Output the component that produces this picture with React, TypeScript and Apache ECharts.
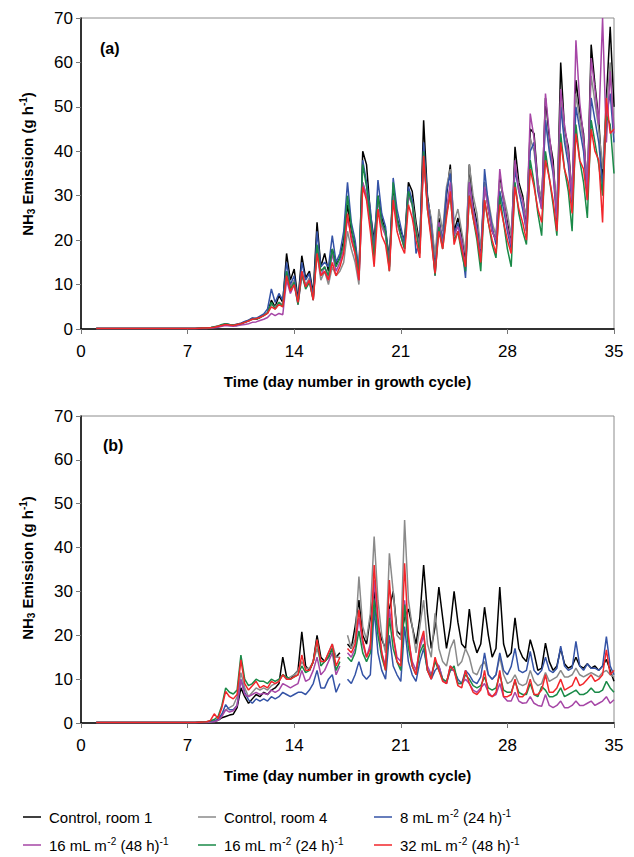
import React, { useEffect, useRef } from "react";
import * as echarts from "echarts";

const FONT = '"Liberation Sans", Arial, Helvetica, sans-serif';

// x positions: a few points on the flat start, then every 6 h from day 8 to day 35
const earlyDays = [1, 3, 5, 7, 7.5];
const earlyVals = [0.1, 0.1, 0.1, 0.1, 0.1];
const gridStart = 8;
const gridStep = 0.25;
const gridCount = 109;

const xTicks = [0, 7, 14, 21, 28, 35];
const yTicks = [0, 10, 20, 30, 40, 50, 60, 70];

const seriesNames = [
  "Control, room 1",
  "Control, room 4",
  "8 mL m-2 (24 h)-1",
  "16 mL m-2 (48 h)-1",
  "16 mL m-2 (24 h)-1",
  "32 mL m-2 (48 h)-1",
];
const legendLabels = [
  "Control, room 1",
  "Control, room 4",
  "8 mL m{sup|-2} (24 h){sup|-1}",
  "16 mL m{sup|-2} (48 h){sup|-1}",
  "16 mL m{sup|-2} (24 h){sup|-1}",
  "32 mL m{sup|-2} (48 h){sup|-1}",
];
const colors = ["#000000", "#8a8a8a", "#3453a6", "#a646a6", "#1a8a48", "#f2262b"];

// ---------- Panel (a) ----------
const aCtrl1 = [
  0.2, 0.2, 0.3, 0.4,
  0.5, 0.8, 1.1, 0.9,
  0.8, 1.0, 1.2, 1.5,
  1.9, 2.4, 2.2, 2.6,
  3.1, 3.6, 6.5, 5.0,
  7.5, 6.0, 17.0, 11.0,
  13.5, 6.5, 16.5, 11.5,
  13.0, 8.0, 24.0, 14.0,
  17.0, 13.0, 18.0, 14.5,
  16.0, 20.0, 28.0, 22.0,
  19.0, 12.0, 40.0, 37.0,
  26.0, 20.0, 30.0, 25.0,
  22.0, 16.0, 32.0, 25.0,
  22.0, 20.0, 33.0, 31.0,
  24.0, 19.0, 47.0, 30.0,
  24.0, 15.0, 25.0, 19.0,
  30.0, 37.0, 22.0, 25.0,
  21.0, 15.0, 37.0, 28.0,
  24.0, 16.0, 33.0, 27.0,
  22.0, 20.0, 34.0, 29.0,
  24.0, 19.0, 41.0, 33.0,
  30.0, 24.0, 45.0, 44.0,
  33.0, 28.0, 52.0, 43.0,
  38.0, 25.0, 60.0, 45.0,
  41.0, 30.0, 56.0, 49.0,
  44.0, 31.0, 64.0, 55.0,
  47.0, 33.0, 52.0, 68.0,
  50.0,
];
const aCtrl4 = [
  0.2, 0.2, 0.3, 0.4,
  0.6, 0.9, 1.0, 0.9,
  0.9, 1.1, 1.3, 1.6,
  2.0, 2.3, 2.4, 2.8,
  3.2, 3.8, 5.5, 5.0,
  6.0, 5.5, 13.0, 9.5,
  11.0, 6.0, 13.0, 10.0,
  11.5, 7.5, 17.0, 11.0,
  13.0, 10.0, 14.0, 12.0,
  13.0, 15.0, 22.0, 18.0,
  15.0, 10.0, 33.0, 30.0,
  24.0, 19.0, 27.0, 23.0,
  21.0, 15.0, 30.0, 24.0,
  21.0, 19.0, 31.0, 29.0,
  23.0, 18.0, 40.0, 29.0,
  25.0, 16.0, 27.0, 22.0,
  32.0, 36.0, 24.0, 27.0,
  22.0, 17.0, 37.0, 30.0,
  26.0, 18.0, 33.0, 29.0,
  24.0, 21.0, 33.0, 30.0,
  26.0, 21.0, 37.0, 32.0,
  29.0, 25.0, 43.0, 40.0,
  33.0, 29.0, 47.0, 41.0,
  36.0, 28.0, 52.0, 43.0,
  39.0, 31.0, 53.0, 47.0,
  42.0, 33.0, 57.0, 51.0,
  45.0, 36.0, 50.0, 60.0,
  45.0,
];
const a8ml24 = [
  0.2, 0.2, 0.3, 0.4,
  0.6, 0.9, 1.2, 1.0,
  0.9, 1.1, 1.3, 1.7,
  2.0, 2.5, 2.4, 2.9,
  3.4, 4.5, 9.0, 6.0,
  8.0, 6.5, 15.0, 10.0,
  12.0, 6.0, 15.0, 11.0,
  12.5, 7.0, 22.0, 14.0,
  15.0, 14.0, 21.0, 15.0,
  17.0, 22.0, 33.0, 24.0,
  20.0, 13.0, 38.0, 33.0,
  27.0, 18.0, 33.5, 26.0,
  23.0, 14.0, 34.0, 27.0,
  23.0, 19.0, 32.0, 29.0,
  17.0, 20.0, 42.0, 29.0,
  23.0, 13.0, 24.0, 20.0,
  31.0, 35.0, 21.0, 24.0,
  19.0, 11.5, 33.0, 27.0,
  23.0, 15.0, 36.0, 28.0,
  23.0, 19.0, 31.0, 27.0,
  22.0, 18.0, 36.0, 31.0,
  27.0, 22.0, 40.0, 42.0,
  31.0, 27.0, 47.0, 40.0,
  35.0, 24.0, 50.0, 42.0,
  37.0, 28.0, 50.0, 45.0,
  40.0, 29.0, 52.0, 47.0,
  42.0, 32.0, 48.0, 53.0,
  42.0,
];
const a16ml48 = [
  0.1, 0.1, 0.2, 0.3,
  0.4, 0.6, 0.8, 0.7,
  0.6, 0.7, 0.9, 1.0,
  1.2, 1.5, 1.6, 1.9,
  2.2, 2.6, 3.5, 3.0,
  3.5, 3.2, 11.0, 8.0,
  10.0, 5.5, 12.0, 9.5,
  11.0, 6.5, 18.0, 12.0,
  14.0, 11.0, 17.0, 13.0,
  15.0, 18.0, 25.0, 21.0,
  17.0, 11.0, 33.0, 30.0,
  24.0, 17.0, 29.0, 24.0,
  21.0, 14.0, 30.0, 24.0,
  21.0, 18.0, 30.0, 28.0,
  22.0, 18.0, 38.0, 28.0,
  22.0, 12.0, 24.0, 19.0,
  27.0, 33.0, 21.0, 23.0,
  20.0, 14.0, 33.0, 27.0,
  22.0, 15.0, 32.0, 27.0,
  22.0, 20.0, 36.0, 29.0,
  23.0, 19.0, 38.0, 31.0,
  29.0, 22.0, 48.5, 43.0,
  32.0, 27.0, 53.0, 44.0,
  36.0, 25.0, 54.0, 46.0,
  40.0, 29.0, 65.0, 51.0,
  43.0, 31.0, 61.0, 54.0,
  46.0, 70.0, 42.0, 58.0,
  44.0,
];
const a16ml24 = [
  0.2, 0.2, 0.3, 0.5,
  0.7, 1.0, 1.2, 1.0,
  0.9, 1.0, 1.2, 1.5,
  1.8, 2.2, 2.2, 2.6,
  3.0, 3.6, 6.0, 4.5,
  6.0, 5.0, 13.0, 9.0,
  10.5, 5.5, 12.5, 9.0,
  10.5, 6.5, 19.0, 13.0,
  14.0, 12.0, 18.0, 14.0,
  16.0, 19.0, 30.0, 23.0,
  18.0, 12.0, 37.0, 32.0,
  25.0, 16.0, 30.0, 24.0,
  22.0, 13.0, 33.0, 25.0,
  21.0, 18.0, 31.0, 28.0,
  22.0, 17.0, 40.0, 27.0,
  21.0, 12.0, 23.0, 18.0,
  26.0, 30.0, 20.0, 22.0,
  17.0, 13.0, 30.0, 25.0,
  20.0, 13.0, 29.0, 24.0,
  19.0, 16.0, 30.0, 24.0,
  18.0, 14.0, 33.0, 26.0,
  22.0, 19.0, 38.0, 33.0,
  26.0, 21.0, 40.0, 34.0,
  28.0, 21.0, 44.0, 36.0,
  31.0, 22.0, 46.0, 38.0,
  33.0, 25.0, 47.0, 42.0,
  37.0, 30.0, 48.0, 46.0,
  35.0,
];
const a32ml48 = [
  0.2, 0.2, 0.3, 0.4,
  0.6, 0.8, 1.0, 0.9,
  0.8, 1.0, 1.2, 1.5,
  1.8, 2.2, 2.3, 2.6,
  3.0, 3.5, 5.0, 4.5,
  5.5, 5.0, 12.0, 8.5,
  10.0, 6.0, 13.0, 9.5,
  11.0, 6.5, 17.0, 12.0,
  13.0, 11.0, 15.0, 12.0,
  14.0, 17.0, 26.0, 20.0,
  17.0, 11.0, 32.0, 29.0,
  22.0, 14.0, 27.0, 21.0,
  19.0, 13.0, 29.0, 22.0,
  19.0, 17.0, 28.0, 25.0,
  20.0, 16.0, 39.0, 27.0,
  20.0, 12.5, 22.0, 18.0,
  25.0, 31.0, 19.0, 22.0,
  18.0, 14.0, 30.0, 25.0,
  21.0, 15.0, 29.0, 24.0,
  20.0, 17.0, 28.0, 24.0,
  20.0, 17.0, 32.0, 27.0,
  24.0, 20.0, 36.0, 32.0,
  27.0, 24.0, 38.0, 34.0,
  29.0, 22.0, 42.0, 36.0,
  33.0, 26.0, 44.0, 38.0,
  36.0, 29.0, 45.0, 40.0,
  38.0, 24.0, 52.0, 44.0,
  45.0,
];

// ---------- Panel (b) ----------  (null = gap in record)
const bCtrl1 = [
  0.2, 0.2, 0.3, 0.4,
  0.6, 1.2, 1.5, 1.8,
  2.0, 3.5, 8.0, 6.0,
  4.5, 5.5, 6.5, 6.0,
  7.0, 6.5, 7.5, 8.0,
  9.0, 15.0, 10.5, 10.0,
  11.0, 12.0, 20.8, 13.0,
  12.0, 14.0, 20.0, 15.0,
  14.0, 15.0, 17.0, 15.0,
  16.0, null, 18.0, 17.0,
  22.0, 28.0, 20.0, 18.0,
  24.0, 30.0, 22.0, 19.0,
  17.0, 26.0, 30.0, 21.0,
  20.0, 24.0, 26.0, 22.0,
  18.0, 24.0, 36.0, 25.0,
  17.0, 22.0, 31.0, 24.0,
  17.0, 22.0, 30.0, 23.0,
  18.0, 17.0, 26.0, 19.0,
  16.0, 18.0, 26.4, 20.0,
  15.0, 17.0, 31.0, 18.0,
  15.0, 16.0, 24.0, 17.0,
  15.0, 14.0, 19.0, 16.0,
  12.0, 12.5, 18.2, 14.0,
  12.0, 13.0, 17.0, 13.5,
  12.5, 13.0, 15.0, 13.0,
  12.5, 13.5, 12.5, 13.0,
  12.0, 13.0, 14.5, 12.0,
  9.5,
];
const bCtrl4 = [
  0.2, 0.2, 0.3, 0.5,
  0.9, 2.0, 3.0, 3.5,
  4.0, 6.0, 11.5, 8.0,
  6.0, 7.0, 8.0, 7.5,
  8.0, 7.5, 8.5, 9.0,
  9.5, 11.0, 10.0, 10.5,
  11.0, 12.0, 14.0, 12.5,
  12.5, 14.0, 17.0, 14.0,
  14.0, 16.0, 18.0, 15.0,
  15.0, null, 20.0, 17.0,
  19.0, 33.4, 22.0, 19.0,
  25.0, 42.5, 28.0, 20.0,
  16.0, 38.7, 30.0, 20.0,
  19.0, 46.3, 28.0, 22.0,
  16.0, 22.0, 28.0, 18.0,
  15.0, 25.0, 17.0, 14.0,
  13.0, 17.0, 19.0, 13.0,
  14.0, 17.0, 15.0, 11.5,
  11.0, 13.0, 14.0, 11.0,
  10.0, 11.0, 15.0, 11.0,
  9.0, 9.5, 11.0, 9.0,
  8.5, 9.0, 12.0, 9.5,
  8.5, 9.0, 11.5, 9.5,
  10.0, 10.5, 12.0, 10.5,
  10.5, 11.0, 12.5, 11.0,
  10.5, 11.0, 11.5, 11.0,
  10.5, 11.5, 12.0, 11.0,
  10.5,
];
const b8ml24 = [
  0.2, 0.2, 0.3, 0.4,
  0.8, 2.0, 4.2, 3.0,
  3.0, 4.0, 9.9, 7.0,
  5.3, 4.5, 5.5, 5.0,
  5.5, 5.0, 6.0, 5.5,
  6.0, 7.0, 6.5, 6.0,
  6.5, 7.0, 7.0, 6.5,
  7.5, 9.0, 12.0, 8.0,
  8.0, 10.0, 11.0, 7.0,
  9.0, null, 10.0, 9.0,
  11.0, 14.0, 11.0, 10.0,
  11.0, 26.0, 16.0, 12.0,
  10.0, 20.0, 13.0, 11.0,
  9.5, 22.0, 14.0, 11.0,
  9.5, 14.0, 17.0, 12.0,
  10.0, 12.0, 13.0, 10.0,
  9.0, 13.0, 12.0, 10.0,
  9.0, 12.0, 11.0, 9.5,
  9.0, 10.5, 16.0, 11.0,
  10.0, 11.0, 16.0, 12.0,
  11.0, 12.9, 17.0, 12.0,
  11.5, 12.0, 16.3, 12.0,
  11.0, 12.0, 15.0, 12.0,
  11.5, 12.5, 17.5, 13.0,
  12.0, 12.5, 18.6, 13.0,
  12.0, 13.5, 12.5, 12.5,
  12.0, 13.0, 19.7, 13.0,
  11.0,
];
const b16ml48 = [
  0.1, 0.1, 0.2, 0.3,
  0.6, 1.5, 3.0, 2.5,
  2.8, 4.0, 9.9, 6.5,
  6.0, 6.5, 7.0, 6.5,
  6.8, 6.5, 7.5, 7.0,
  7.5, 9.0, 8.5, 8.0,
  8.5, 9.0, 12.0, 9.5,
  10.0, 12.0, 15.0, 11.0,
  12.0, 14.0, 16.0, 11.0,
  13.0, null, 16.0, 15.0,
  17.0, 24.0, 18.0, 15.0,
  18.0, 32.6, 22.0, 16.0,
  13.0, 26.0, 20.0, 15.0,
  14.0, 28.0, 19.0, 14.0,
  12.0, 17.0, 20.0, 13.0,
  11.0, 14.0, 13.0, 10.0,
  9.0, 12.0, 12.0, 9.0,
  9.0, 10.0, 9.0, 7.5,
  7.0, 8.0, 9.0, 7.0,
  6.0, 6.5, 9.0, 6.0,
  5.0, 5.0, 7.0, 5.0,
  4.5, 4.6, 6.0, 4.5,
  4.0, 3.8, 6.5, 4.0,
  3.5, 4.0, 5.0, 3.5,
  3.5, 4.0, 5.0, 4.0,
  4.0, 4.5, 5.0, 4.0,
  4.5, 5.0, 6.0, 4.5,
  5.3,
];
const b16ml24 = [
  0.2, 0.3, 0.5, 0.8,
  1.5, 4.0, 8.0, 7.0,
  6.6, 7.5, 15.5, 10.0,
  8.5, 9.0, 10.0, 9.5,
  9.5, 9.0, 10.0, 9.5,
  10.0, 11.0, 10.5, 10.0,
  10.5, 11.0, 13.0, 11.5,
  12.0, 14.0, 19.0, 13.0,
  14.0, 15.0, 17.0, 12.0,
  14.0, null, 15.0, 14.0,
  16.0, 21.0, 16.0, 14.0,
  16.0, 28.0, 20.0, 15.0,
  12.0, 24.0, 17.0, 14.0,
  12.0, 27.0, 17.0, 13.0,
  11.0, 16.0, 18.0, 12.0,
  10.5, 14.0, 12.0, 10.0,
  9.5, 12.0, 13.0, 9.0,
  9.0, 11.0, 10.0, 8.5,
  8.0, 8.5, 10.5, 8.0,
  7.5, 8.0, 11.0, 7.5,
  7.0, 7.0, 9.5, 7.0,
  6.5, 6.5, 9.0, 6.5,
  6.0, 8.3, 7.5, 6.0,
  6.0, 6.5, 8.0, 6.0,
  6.5, 7.0, 7.5, 6.5,
  6.5, 7.0, 8.0, 7.0,
  7.0, 7.5, 9.5, 8.0,
  7.0,
];
const b32ml48 = [
  0.2, 0.3, 0.6, 2.1,
  1.0, 3.5, 7.2, 6.0,
  5.5, 6.5, 14.4, 9.0,
  7.5, 8.5, 9.5, 8.0,
  8.5, 8.0, 9.5, 9.0,
  9.5, 11.0, 10.0, 10.0,
  10.5, 11.0, 15.5, 12.0,
  12.0, 14.0, 19.0, 14.0,
  14.0, 16.0, 18.0, 13.0,
  15.0, null, 17.0, 16.0,
  18.0, 25.8, 19.0, 15.0,
  17.0, 36.0, 24.0, 16.0,
  12.0, 32.6, 20.0, 14.0,
  13.0, 36.4, 20.0, 13.0,
  11.0, 18.0, 21.0, 12.0,
  10.0, 15.0, 12.0, 9.5,
  9.0, 13.0, 12.0, 8.5,
  8.0, 12.0, 9.0, 7.0,
  6.5, 7.5, 12.0, 6.5,
  6.0, 7.0, 12.0, 6.0,
  6.0, 6.5, 10.0, 6.0,
  6.0, 7.0, 10.0, 6.5,
  6.5, 7.5, 11.0, 7.0,
  7.0, 8.0, 10.0, 7.5,
  8.0, 8.5, 10.5, 8.5,
  9.0, 10.0, 11.0, 9.5,
  10.0, 11.0, 16.7, 11.0,
  12.0,
];

const panelA = [aCtrl1, aCtrl4, a8ml24, a16ml48, a16ml24, a32ml48];
const panelB = [bCtrl1, bCtrl4, b8ml24, b16ml48, b16ml24, b32ml48];

function buildDays(): number[] {
  const out = earlyDays.slice();
  for (let i = 0; i < gridCount; i++) out.push(gridStart + i * gridStep);
  return out;
}

function toPairs(days: number[], vals: (number | null)[]) {
  const full = (earlyVals as (number | null)[]).concat(vals);
  return days.map((d, k) => {
    const v = full[k];
    return [d, v === null || v === undefined ? "-" : v];
  });
}

export default function App() {
  const ref = useRef<HTMLDivElement>(null);

  useEffect(() => {
    if (!ref.current) return;
    const chart = echarts.init(ref.current, undefined, { renderer: "svg" });
    const days = buildDays();

    const grids = [
      { left: 81, top: 18, width: 533, height: 311 },
      { left: 81, top: 416, width: 533, height: 307 },
    ].map((g) => ({
      ...g,
      show: true,
      borderColor: "#8c8c8c",
      borderWidth: 1,
      backgroundColor: "transparent",
    }));

    const xAxes = [0, 1].map((p) => ({
      gridIndex: p,
      type: "value",
      min: xTicks[0],
      max: xTicks[xTicks.length - 1],
      interval: xTicks[1] - xTicks[0],
      axisLine: { show: true, onZero: false, lineStyle: { color: "#000", width: 1.5 } },
      axisTick: { show: true, length: 5, lineStyle: { color: "#777", width: 1 } },
      axisLabel: { fontSize: 17, color: "#000", margin: 14, fontFamily: FONT },
      splitLine: { show: false },
      name: "Time (day number in growth cycle)",
      nameLocation: "middle",
      nameGap: 45,
      nameTextStyle: { fontWeight: "bold", fontSize: 15, color: "#000", fontFamily: FONT },
    }));

    const yAxes = [0, 1].map((p) => ({
      gridIndex: p,
      type: "value",
      min: yTicks[0],
      max: yTicks[yTicks.length - 1],
      interval: yTicks[1] - yTicks[0],
      axisLine: { show: true, onZero: false, lineStyle: { color: "#000", width: 1.5 } },
      axisTick: { show: true, length: 5, lineStyle: { color: "#777", width: 1 } },
      axisLabel: { fontSize: 17, color: "#000", margin: 8, fontFamily: FONT },
      splitLine: { show: false },
    }));

    const series: any[] = [];
    [panelA, panelB].forEach((panel, p) => {
      panel.forEach((vals, i) => {
        series.push({
          type: "line",
          name: seriesNames[i],
          xAxisIndex: p,
          yAxisIndex: p,
          data: toPairs(days, vals),
          showSymbol: false,
          symbol: "none",
          connectNulls: false,
          lineStyle: { color: colors[i], width: 1.5 },
          itemStyle: { color: colors[i] },
          z: 2 + i,
        });
      });
    });

    const legendCols = [23, 198, 374];
    const legendRows = [808, 836];
    const legends = seriesNames.map((name, i) => ({
      data: [name],
      left: legendCols[i % 3],
      top: legendRows[Math.floor(i / 3)],
      padding: 0,
      icon: "rect",
      itemWidth: 18,
      itemHeight: 1.5,
      selectedMode: false,
      formatter: () => legendLabels[i],
      textStyle: {
        fontSize: 15,
        color: "#000",
        fontFamily: FONT,
        lineHeight: 18,
        padding: [0, 0, 0, 3],
        rich: {
          sup: { fontSize: 10, color: "#000", fontFamily: FONT, verticalAlign: "top", lineHeight: 18 },
        },
      },
    }));

    const titleRich = {
      sub: { fontSize: 10, fontWeight: "bold", fill: "#000", fontFamily: FONT, verticalAlign: "bottom", lineHeight: 18 },
      sup: { fontSize: 10, fontWeight: "bold", fill: "#000", fontFamily: FONT, verticalAlign: "top", lineHeight: 18 },
    };
    const yTitle = (cy: number) => ({
      type: "text",
      x: 27,
      y: cy,
      rotation: Math.PI / 2,
      style: {
        text: "NH{sub|3} Emission (g h{sup|-1})",
        fontSize: 15,
        fontWeight: "bold",
        fontFamily: FONT,
        fill: "#000",
        lineHeight: 18,
        align: "center",
        verticalAlign: "middle",
        rich: titleRich,
      },
    });

    chart.setOption({
      animation: false,
      backgroundColor: "#ffffff",
      grid: grids,
      xAxis: xAxes,
      yAxis: yAxes,
      legend: legends,
      series,
      graphic: [
        yTitle(164),
        yTitle(568),
        {
          type: "text",
          left: 100,
          top: 40,
          style: { text: "(a)", fontSize: 16, fontWeight: "bold", fontFamily: FONT, fill: "#000" },
        },
        {
          type: "text",
          left: 103,
          top: 437,
          style: { text: "(b)", fontSize: 16, fontWeight: "bold", fontFamily: FONT, fill: "#000" },
        },
      ],
    });

    return () => chart.dispose();
  }, []);

  return (
    <div
      ref={ref}
      style={{ position: "fixed", left: 0, top: 0, width: 634, height: 857, background: "#fff" }}
    />
  );
}
